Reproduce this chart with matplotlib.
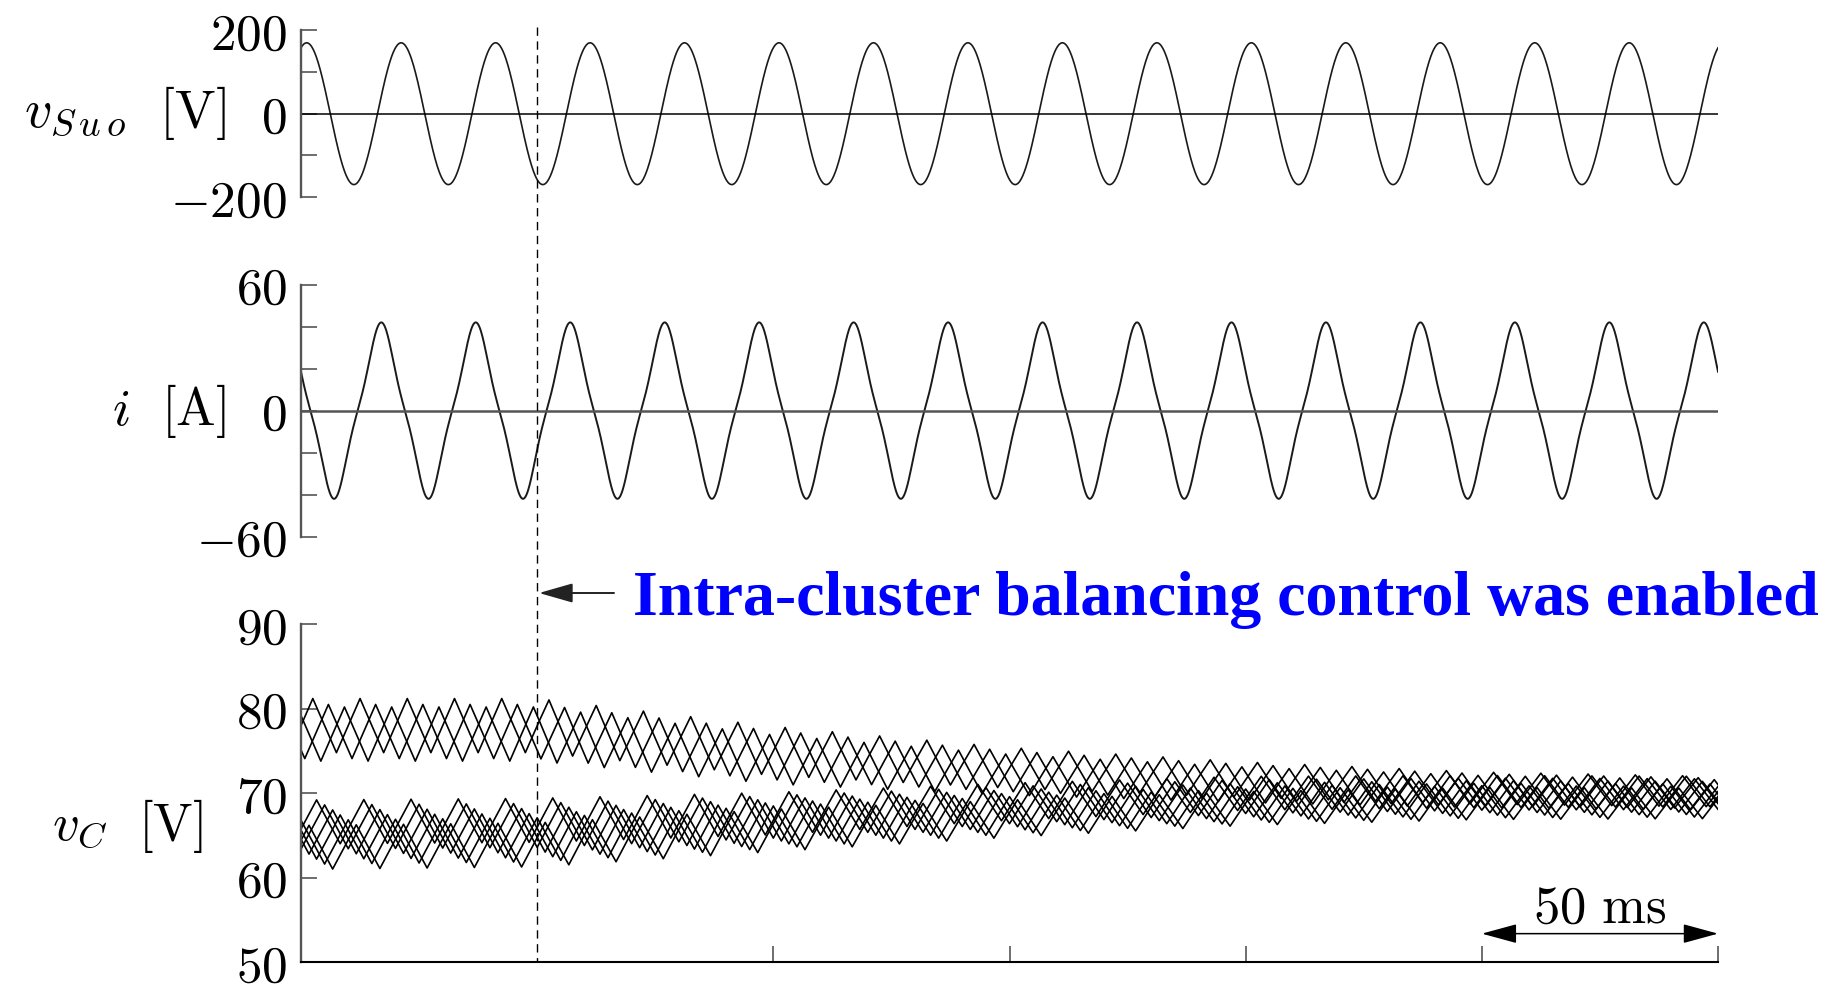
import numpy as np
import matplotlib
matplotlib.use("Agg")
import matplotlib.pyplot as plt
from matplotlib.lines import Line2D
import matplotlib.transforms as mtransforms

plt.rcParams['mathtext.fontset'] = 'cm'
plt.rcParams['font.family'] = ['DejaVu Serif']

# time axis, ms
t = np.linspace(0, 300, 3001)
t_enable = 50.0

# source voltage v_Suo
v_amp = 170.0
v_freq = 50.0
v_peak_ms = 1.2

# current i, triangular-ish
i_amp1 = 38.0
i_amp3 = 4.0
i_peak_ms = 17.0

# capacitor voltages: mean level and ripple at these times
cap_knots = [0, 50, 100, 150, 200, 250, 300]
upper_means = [
    [78.0, 78.0, 75.0, 73.0, 71.6, 70.6, 70.2],
    [77.3, 77.3, 74.5, 72.6, 71.3, 70.4, 70.0],
    [77.0, 77.0, 74.0, 72.2, 71.0, 70.2, 69.8],
]
lower_means = [
    [66.6, 66.8, 67.6, 69.0, 70.0, 70.2, 70.2],
    [66.0, 66.2, 67.2, 68.6, 69.6, 69.9, 69.9],
    [65.4, 65.6, 66.8, 68.2, 69.2, 69.6, 69.6],
    [64.8, 65.0, 66.4, 67.8, 68.8, 69.3, 69.3],
    [64.2, 64.5, 66.0, 67.4, 68.5, 69.0, 69.0],
    [63.6, 63.9, 65.6, 67.0, 68.2, 68.8, 68.8],
]
upper_ripple = [3.2, 3.2, 2.9, 2.4, 2.1, 1.9, 1.8]
lower_ripple = [2.6, 2.6, 2.5, 2.2, 2.0, 1.9, 1.8]
upper_phase = [0.0, 3.3, 6.7]
lower_phase = [0.8, 2.5, 4.2, 5.8, 7.5, 9.2]
ripple_period = 10.0


def tri(tt, period, phase):
    return (2 / np.pi) * np.arcsin(np.sin(2 * np.pi * (tt - phase) / period))


W, H = 1829, 984
fig = plt.figure(figsize=(W / 100, H / 100), dpi=100)

left = 301 / W
width = (1718 - 301) / W
ax1 = fig.add_axes([left, 1 - 197.1 / H, width, (197.1 - 30.3) / H])
ax2 = fig.add_axes([left, 1 - 536.6 / H, width, (536.6 - 284.6) / H])
ax3 = fig.add_axes([left, 1 - 962.4 / H, width, (962.4 - 624.1) / H])

for ax in (ax1, ax2, ax3):
    ax.set_xlim(0, 300)
    ax.spines['top'].set_visible(False)
    ax.spines['right'].set_visible(False)
    ax.spines['left'].set_color('#555555')
    ax.spines['left'].set_linewidth(1.7)
    ax.tick_params(axis='y', direction='in', length=11.5, width=1.2,
                   color='#555555', pad=10, labelsize=37)
for ax in (ax1, ax2):
    ax.spines['bottom'].set_visible(False)
    ax.set_xticks([])

# v_Suo
v = v_amp * np.cos(2 * np.pi * v_freq * (t - v_peak_ms) / 1000)
ax1.plot(t, v, color='#1a1a1a', lw=1.2)
ax1.axhline(0, color='black', lw=1.1)
ax1.set_ylim(-200, 200)
ax1.set_yticks([200, 100, 0, -100, -200],
               [r'$200$', '', r'$0$', '', r'$-200$'])

# i
th = 2 * np.pi * v_freq * (t - i_peak_ms) / 1000
cur = i_amp1 * np.cos(th) + i_amp3 * np.cos(3 * th)
ax2.plot(t, cur, color='#1a1a1a', lw=1.4)
ax2.axhline(0, color='#555555', lw=1.8)
ax2.set_ylim(-60, 60)
ax2.set_yticks([60, 40, 20, 0, -20, -40, -60],
               [r'$60$', '', '', r'$0$', '', '', r'$-60$'])

# v_C
for means, ph in zip(upper_means, upper_phase):
    m = np.interp(t, cap_knots, means)
    a = np.interp(t, cap_knots, upper_ripple)
    ax3.plot(t, m + a * tri(t, ripple_period, ph), color='black', lw=1.2)
for means, ph in zip(lower_means, lower_phase):
    m = np.interp(t, cap_knots, means)
    a = np.interp(t, cap_knots, lower_ripple)
    ax3.plot(t, m + a * tri(t, ripple_period, ph), color='black', lw=1.2)
ax3.set_ylim(50, 90)
ax3.set_yticks([90, 80, 70, 60, 50],
               [r'$90$', r'$80$', r'$70$', r'$60$', r'$50$'])
ax3.set_xticks([100, 150, 200, 250, 300])
ax3.set_xticklabels([])
ax3.tick_params(axis='x', direction='in', length=11.5, width=1.2, color='#555555')
ax3.spines['bottom'].set_linewidth(1.5)

# y labels
fig.text(226 / W, 1 - 113.5 / H, r'$v_{S\,u\,o}\ \ [\mathrm{V}]$', ha='right', va='center', fontsize=39)
fig.text(226 / W, 1 - 410.6 / H, r'$i\ \ [\mathrm{A}]$', ha='right', va='center', fontsize=38)
fig.text(203 / W, 1 - 826 / H, r'$v_C\ \ [\mathrm{V}]$', ha='right', va='center', fontsize=38)

# dashed line where control was enabled, runs through all panels
trans = mtransforms.blended_transform_factory(ax3.transData, fig.transFigure)
fig.add_artist(Line2D([t_enable, t_enable], [1 - 27 / H, 1 - 962.4 / H], transform=trans,
                      color='black', lw=1.0, linestyle=(0, (6, 4))))

# annotation
fig.text(633 / W, 1 - 615 / H, 'Intra-cluster balancing control was enabled',
         ha='left', va='baseline', fontsize=46, fontweight='bold', color='#0000ff',
         family='Liberation Serif')
ax3.annotate('', xy=(539 / W, 1 - 593 / H), xycoords='figure fraction',
             xytext=(614 / W, 1 - 593 / H), textcoords='figure fraction',
             arrowprops=dict(arrowstyle='-|>,head_length=1.05,head_width=0.3',
                             mutation_scale=20, color='#222222', lw=1.4,
                             shrinkA=0, shrinkB=0))

# 50 ms scale bar
ax3.annotate('', xy=(250, 53.4), xytext=(300, 53.4),
             arrowprops=dict(arrowstyle='<|-|>,head_length=1.1,head_width=0.3',
                             mutation_scale=20, color='black', lw=1.1,
                             shrinkA=0, shrinkB=0))
ax3.text(275, 54.7, r'$\mathrm{50\ ms}$', ha='center', va='baseline', fontsize=38)

fig.savefig('out.png', dpi=100, facecolor='white')
